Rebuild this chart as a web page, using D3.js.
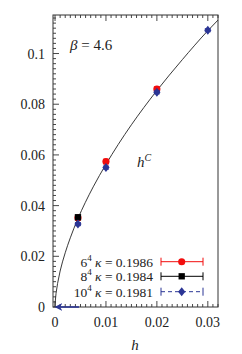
<!DOCTYPE html>
<html>
<head>
<meta charset="utf-8">
<script src="https://cdn.jsdelivr.net/npm/d3@7"></script>
<style>
  body { margin: 0; background: #fff; }
</style>
</head>
<body>
<svg id="chart" width="242" height="354"></svg>
<script>
// values
var h6 = [0.0045, 0.01, 0.02];
var hc6 = [0.0352, 0.0574, 0.0860];
var err6 = [0.0009, 0.0009, 0.0009];

var h8 = [0.0045];
var hc8 = [0.0354];
var err8 = [0.0008];

var h10 = [0.0045, 0.01, 0.02, 0.03];
var hc10 = [0.0327, 0.0550, 0.0847, 0.1092];
var err10 = [0.0006, 0.0006, 0.0006, 0.0006];

// fitted h^C curve
var curveH = [0, 0.00005, 0.0002, 0.0005, 0.001, 0.002, 0.003, 0.0045, 0.0075, 0.01, 0.015, 0.02, 0.025, 0.03, 0.032];
var curveHc = [0, 0.0023, 0.0054, 0.0093, 0.0142, 0.0214, 0.0273, 0.0349, 0.0474, 0.0563, 0.0719, 0.0854, 0.0976, 0.1090, 0.1132];

var xTicks = [0, 0.01, 0.02, 0.03];
var yTicks = [0, 0.02, 0.04, 0.06, 0.08, 0.1];
var legendLabels = ['6', '8', '10'];
var legendKappa = ['0.1986', '0.1984', '0.1981'];

var svg = d3.select('#chart')
    .attr('font-family', '"Liberation Serif", "DejaVu Serif", serif')
    .attr('fill', '#222');
var mLeft = 53, mRight = 218, mTop = 15, mBottom = 307;

var x = d3.scaleLinear().domain([-0.0004, 0.0320]).range([mLeft, mRight]);
var y = d3.scaleLinear().domain([0, 0.1152]).range([mBottom, mTop]);

var red = '#f20d0d', black = '#000', blue = '#2b3595';

// frame
svg.append('rect')
    .attr('x', mLeft).attr('y', mTop)
    .attr('width', mRight - mLeft).attr('height', mBottom - mTop)
    .attr('fill', 'none').attr('stroke', '#333').attr('stroke-width', 1);

// ticks: bottom, top, left (inward)
var xMinor = d3.range(0, 0.0321, 0.001);
var yMinor = d3.range(0, 0.115, 0.002);

var ticks = svg.append('g').attr('stroke', '#333').attr('stroke-width', 0.9);
xMinor.forEach(function(v, i) {
    var len = (i % 10 === 0) ? 6 : 3;
    ticks.append('line').attr('x1', x(v)).attr('x2', x(v)).attr('y1', mBottom).attr('y2', mBottom - len);
    ticks.append('line').attr('x1', x(v)).attr('x2', x(v)).attr('y1', mTop).attr('y2', mTop + len);
});
yMinor.forEach(function(v, i) {
    var len = (i % 10 === 0) ? 6 : 3;
    ticks.append('line').attr('x1', mLeft).attr('x2', mLeft + len).attr('y1', y(v)).attr('y2', y(v));
});

// tick labels
svg.append('g').selectAll('text')
    .data(xTicks).enter().append('text')
    .attr('x', function(d) { return x(d); })
    .attr('y', 327)
    .attr('text-anchor', 'middle')
    .attr('font-size', 14)
    .text(function(d) { return d === 0 ? '0' : d3.format('.2f')(d); });

svg.append('g').selectAll('text')
    .data(yTicks).enter().append('text')
    .attr('x', 45)
    .attr('y', function(d) { return y(d) + 5; })
    .attr('text-anchor', 'end')
    .attr('font-size', 14)
    .text(function(d) { return d === 0 ? '0' : String(+d.toFixed(2)); });

// axis label
svg.append('text')
    .attr('x', 135).attr('y', 350)
    .attr('text-anchor', 'middle')
    .attr('font-size', 15)
    .attr('font-style', 'italic')
    .text('h');

// curve
var line = d3.line()
    .x(function(d) { return x(d[0]); })
    .y(function(d) { return y(d[1]); })
    .curve(d3.curveMonotoneY);

svg.append('path')
    .datum(d3.zip(curveH, curveHc))
    .attr('d', line)
    .attr('fill', 'none')
    .attr('stroke', '#222')
    .attr('stroke-width', 0.9);

// blue arrow at h = 0
svg.append('defs').append('marker')
    .attr('id', 'arrow')
    .attr('viewBox', '0 0 10 10')
    .attr('refX', 8).attr('refY', 5)
    .attr('markerWidth', 5).attr('markerHeight', 5)
    .attr('orient', 'auto')
    .append('path')
    .attr('d', 'M0,0 L10,5 L0,10 L3,5 Z')
    .attr('fill', blue);

svg.append('line')
    .attr('x1', x(0.0047)).attr('x2', x(0.0002))
    .attr('y1', y(0)).attr('y2', y(0))
    .attr('stroke', blue).attr('stroke-width', 1.6)
    .attr('marker-end', 'url(#arrow)');

// error bars and markers
function drawSeries(hs, vals, errs, color, shape) {
    var g = svg.append('g');
    hs.forEach(function(h, i) {
        var cx = x(h), y0 = y(vals[i] - errs[i]), y1 = y(vals[i] + errs[i]);
        g.append('line').attr('x1', cx).attr('x2', cx).attr('y1', y0).attr('y2', y1)
            .attr('stroke', color).attr('stroke-width', 1);
        [y0, y1].forEach(function(yy) {
            g.append('line').attr('x1', cx - 3).attr('x2', cx + 3).attr('y1', yy).attr('y2', yy)
                .attr('stroke', color).attr('stroke-width', 1);
        });
        g.append('path')
            .attr('transform', 'translate(' + cx + ',' + y(vals[i]) + ')')
            .attr('d', shape)
            .attr('fill', color);
    });
}

var circleShape = d3.symbol().type(d3.symbolCircle).size(40)();
var squareShape = d3.symbol().type(d3.symbolSquare).size(40)();
var diamondShape = 'M0,-4.5 L3.6,0 L0,4.5 L-3.6,0 Z';

drawSeries(h6, hc6, err6, red, circleShape);
drawSeries(h8, hc8, err8, black, squareShape);
drawSeries(h10, hc10, err10, blue, diamondShape);

// annotations
var beta = svg.append('text').attr('x', 70).attr('y', 50).attr('font-size', 15);
beta.append('tspan').attr('font-style', 'italic').text('\u03b2');
beta.append('tspan').text(' = 4.6');

var hcText = svg.append('text').attr('x', 137).attr('y', 167).attr('font-size', 15);
hcText.append('tspan').attr('font-style', 'italic').text('h');
hcText.append('tspan').attr('font-style', 'italic').attr('font-size', 10).attr('dy', -6).text('C');

// legend
var legendColors = [red, black, blue];
var legendShapes = [circleShape, squareShape, diamondShape];
var legendY = [261.7, 276.3, 291.7];

legendLabels.forEach(function(lab, i) {
    var ly = legendY[i];
    var t = svg.append('text').attr('x', 153).attr('y', ly + 5)
        .attr('text-anchor', 'end').attr('font-size', 13.5);
    t.append('tspan').text(lab);
    t.append('tspan').attr('font-size', 9).attr('dy', -6).text('4');
    t.append('tspan').attr('dy', 6).attr('font-style', 'italic').text(' \u03ba');
    t.append('tspan').text(' = ' + legendKappa[i]);

    var c = legendColors[i];
    svg.append('line').attr('x1', 161).attr('x2', 203).attr('y1', ly).attr('y2', ly)
        .attr('stroke', c).attr('stroke-width', 1)
        .attr('stroke-dasharray', i === 2 ? '4,3' : null);
    [161, 203].forEach(function(xx) {
        svg.append('line').attr('x1', xx).attr('x2', xx).attr('y1', ly - 4).attr('y2', ly + 4)
            .attr('stroke', c).attr('stroke-width', 1);
    });
    svg.append('path')
        .attr('transform', 'translate(181.7,' + ly + ')')
        .attr('d', legendShapes[i])
        .attr('fill', c);
});
</script>
</body>
</html>
